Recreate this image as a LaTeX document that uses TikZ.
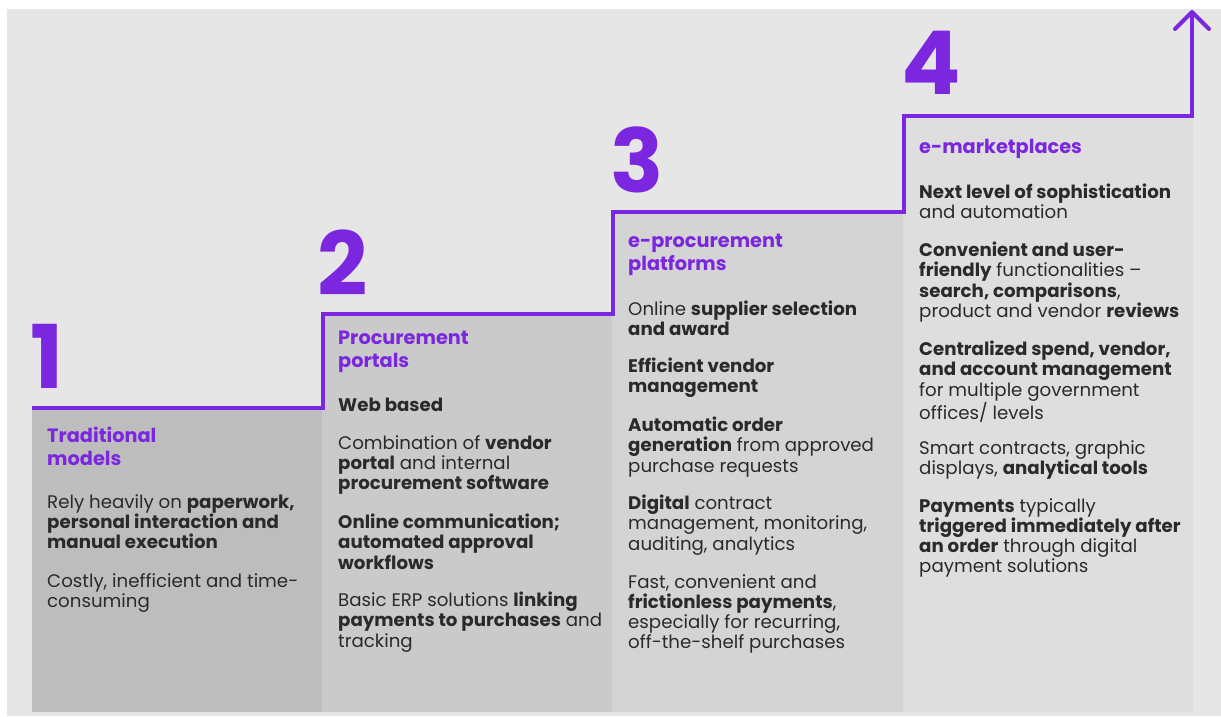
\documentclass[tikz,border=0pt]{standalone}
\usepackage{fontspec}
\setmainfont{Poppins}
\usetikzlibrary{arrows.meta}
\definecolor{pur}{HTML}{7B26DF}
\definecolor{bgg}{HTML}{E6E6E6}
\definecolor{c1}{HTML}{BDBDBD}
\definecolor{c2}{HTML}{CACACA}
\definecolor{c3}{HTML}{D4D4D4}
\definecolor{c4}{HTML}{DEDEDE}
\definecolor{txt}{HTML}{2A2A2A}
\begin{document}
\begin{tikzpicture}[x=1pt,y=-1pt,
  para/.style={anchor=north west, inner sep=0pt, align=left, text=txt,
    font={\fontsize{18.2}{20.2}\selectfont}, execute at begin node=\strut},
  ttl/.style={anchor=north west, inner sep=0pt, align=left, text=pur,
    font={\fontsize{19.3}{23}\selectfont\bfseries}, execute at begin node=\strut},
  digit/.style={anchor=base west, inner sep=0pt, text=pur,
    font={\fontsize{88}{88}\selectfont\bfseries}},
  stair/.style={draw=pur, line width=4pt, line join=miter}]
\useasboundingbox (0,0) rectangle (1221,717);
\fill[white] (0,0) rectangle (1221,717);
\fill[bgg] (7,9) rectangle (1221,716);
\fill[c1] (32,410) rectangle (322,712);
\fill[c2] (322,316) rectangle (612,712);
\fill[c3] (612,214) rectangle (903,712);
\fill[c4] (903,118) rectangle (1193,712);
\draw[stair, -{Straight Barb[length=17pt,width=34pt,line width=4pt,round]}]
  (32,408) -- (323,408) -- (323,314) -- (613,314) -- (613,212)
  -- (904,212) -- (904,116) -- (1192,116) -- (1192,10);
% digits
\node[digit] (d1) at (30,388) {1};
\node[digit] (d2) at (317,295) {2};
\node[digit] (d3) at (610,192) {3};
\node[digit] (d4) at (901,95) {4};
% column 1
\node[ttl] (t1) at (47,427) {Traditional\\models};
\node[para] (p11) at (47,494) {Rely heavily on \textbf{paperwork,}\\\textbf{personal interaction and}\\\textbf{manual execution}};
\node[para] (p12) at (47,573) {Costly, inefficient and time-\\consuming};
% column 2
\node[ttl] (t2) at (338,331) {Procurement\\portals};
\node[para] (p21) at (338,397) {\textbf{Web based}};
\node[para] (p22) at (338,435) {Combination of \textbf{vendor}\\\textbf{portal} and internal\\\textbf{procurement software}};
\node[para] (p23) at (338,514) {\textbf{Online communication;}\\\textbf{automated approval}\\\textbf{workflows}};
\node[para] (p24) at (338,592) {Basic ERP solutions \textbf{linking}\\\textbf{payments to purchases} and\\tracking};
% column 3
\node[ttl] (t3) at (628,234) {e-procurement\\platforms};
\node[para] (p31) at (628,301) {Online \textbf{supplier selection}\\\textbf{and award}};
\node[para] (p32) at (628,358) {\textbf{Efficient vendor}\\\textbf{management}};
\node[para] (p33) at (628,417) {\textbf{Automatic order}\\\textbf{generation} from approved\\purchase requests};
\node[para] (p34) at (628,495) {\textbf{Digital} contract\\management, monitoring,\\auditing, analytics};
\node[para] (p35) at (628,574) {Fast, convenient and\\\textbf{frictionless payments},\\especially for recurring,\\off-the-shelf purchases};
% column 4
\node[ttl] (t4) at (919,137) {e-marketplaces};
\node[para] (p41) at (919,184) {\textbf{Next level of sophistication}\\and automation};
\node[para] (p42) at (919,242) {\textbf{Convenient and user-}\\\textbf{friendly} functionalities –\\\textbf{search, comparisons},\\product and vendor \textbf{reviews}};
\node[para] (p43) at (919,341) {\textbf{Centralized spend, vendor,}\\\textbf{and account management}\\for multiple government\\offices/ levels};
\node[para] (p44) at (919,440) {Smart contracts, graphic\\displays, \textbf{analytical tools}};
\node[para] (p45) at (919,498) {\textbf{Payments} typically\\\textbf{triggered immediately after}\\\textbf{an order} through digital\\payment solutions};
\end{tikzpicture}
\end{document}
